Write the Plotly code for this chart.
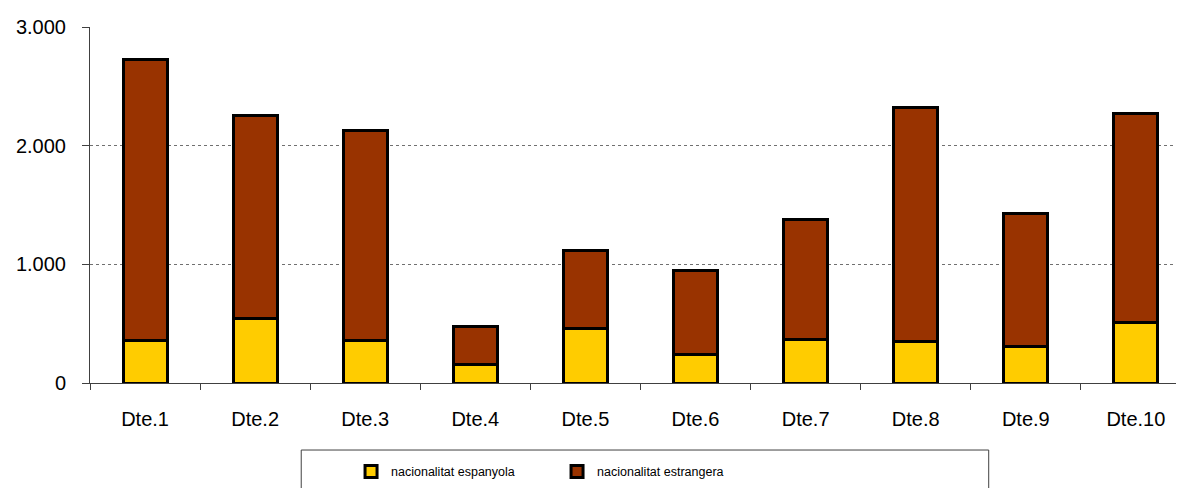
import plotly.graph_objects as go

districts = ["Dte.1", "Dte.2", "Dte.3", "Dte.4", "Dte.5", "Dte.6", "Dte.7", "Dte.8", "Dte.9", "Dte.10"]
espanyola = [356, 546, 356, 157, 462, 244, 364, 353, 305, 509]
estrangera = [2372, 1707, 1774, 316, 655, 706, 1016, 1968, 1124, 1766]
y_ticks = [0, 1000, 2000, 3000]

# page has an 8px body margin; figure coordinates = page coordinates - 8
OFF = 8
W, H = 1184, 488
L, T = 86 - OFF, 25 - OFF
plot_bottom = 383.5 - OFF
plot_right = 1184 - OFF
R = W - plot_right
B = H - plot_bottom
pw, ph = plot_right - L, plot_bottom - T

fig = go.Figure()
fig.add_trace(go.Bar(
    x=districts, y=espanyola, name="nacionalitat espanyola",
    marker=dict(color="#FFCC00", line=dict(color="#000000", width=3)),
))
fig.add_trace(go.Bar(
    x=districts, y=estrangera, name="nacionalitat estrangera",
    marker=dict(color="#993300", line=dict(color="#000000", width=3)),
))

def px_x(p):
    return (p - OFF - L) / pw

def px_y(p):
    return (plot_bottom - (p - OFF)) / ph

fig.update_layout(
    width=W, height=H,
    barmode="stack", bargap=0.6,
    separators=",.",
    paper_bgcolor="white", plot_bgcolor="white",
    margin=dict(l=L, r=R, t=T, b=B),
    font=dict(family="Liberation Sans, Arial, sans-serif", size=20, color="#000000"),
    showlegend=True,
    legend=dict(
        orientation="h", x=px_x(348), xanchor="left", y=px_y(473), yanchor="middle",
        xref="paper", yref="paper",
        entrywidth=161, entrywidthmode="pixels",
        font=dict(size=12.5, family="Liberation Sans, Arial, sans-serif"),
        bgcolor="rgba(0,0,0,0)", borderwidth=0,
        traceorder="normal",
    ),
    shapes=[dict(
        type="rect", xref="paper", yref="paper",
        x0=px_x(298), x1=px_x(988), y0=px_y(451), y1=px_y(505),
        line=dict(color="#404040", width=1), fillcolor="rgba(0,0,0,0)", layer="below",
    )],
)
fig.update_xaxes(
    type="category", range=[-0.5, 9.437],
    showline=True, linecolor="#404040", linewidth=1,
    ticks="outside", tickson="boundaries", ticklen=6, tickcolor="#404040",
    showgrid=False, ticklabelstandoff=18,
)
fig.update_yaxes(
    range=[0, 3000], tickvals=y_ticks, tickformat=",d",
    showline=True, linecolor="#404040", linewidth=1,
    ticks="outside", ticklen=7, tickcolor="#404040",
    showgrid=True, gridcolor="#707070", griddash="dot", gridwidth=1,
    zeroline=False, ticklabelstandoff=12,
)
fig.write_html("out.html")
